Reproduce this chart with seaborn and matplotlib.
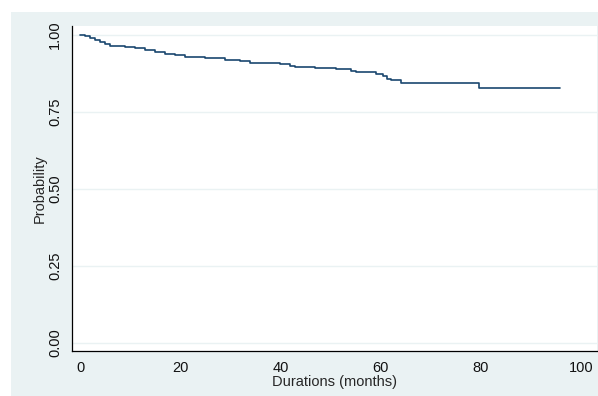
import matplotlib
matplotlib.use("Agg")
import matplotlib.pyplot as plt
from matplotlib.patches import Rectangle
import seaborn as sns
import pandas as pd

# Kaplan-Meier survival estimate: step times (months) and survival probability
times = [0, 1, 2, 3, 4, 5, 6, 9, 11, 13, 15, 17, 19, 21, 25, 29, 32, 34,
         40, 42, 43, 47, 51, 54, 55, 59, 60.5, 61.3, 62, 64, 79.6, 95.8]
survival = [1.0, 0.995, 0.99, 0.984, 0.978, 0.970, 0.965, 0.960, 0.956,
            0.950, 0.943, 0.938, 0.934, 0.929, 0.925, 0.920, 0.915, 0.910,
            0.905, 0.900, 0.897, 0.893, 0.889, 0.884, 0.880, 0.874, 0.866,
            0.857, 0.853, 0.844, 0.829, 0.829]

x_ticks = [0, 20, 40, 60, 80, 100]
y_ticks = [0.0, 0.25, 0.50, 0.75, 1.0]
y_tick_labels = ["0.00", "0.25", "0.50", "0.75", "1.00"]

df = pd.DataFrame({"time": times, "survival": survival})

sns.set_style("white")
plt.rcParams["font.family"] = ["Liberation Sans", "DejaVu Sans"]

W, H = 598, 396
fig = plt.figure(figsize=(W / 100, H / 100), dpi=100, facecolor="white")

# graph region behind the plot area
region = Rectangle((11 / W, 0), 1 - 11 / W, 1 - 12 / H,
                   transform=fig.transFigure, facecolor="#eaf2f3",
                   edgecolor="none", zorder=-10)
fig.add_artist(region)

ax = fig.add_axes([72 / W, (H - 351) / H, (597 - 72) / W, (351 - 26) / H])
ax.set_zorder(1)
ax.set_facecolor("white")

sns.lineplot(data=df, x="time", y="survival", ax=ax, drawstyle="steps-post",
             color="#1a476f", linewidth=1.2, estimator=None, zorder=3)

ax.set_xlim(-1.6, 103.2)
ax.set_ylim(-0.026, 1.029)
ax.set_xticks(x_ticks)
ax.set_yticks(y_ticks)
ax.set_yticklabels(y_tick_labels, rotation=90, va="center")
ax.tick_params(axis="both", direction="out", length=5, width=0.8,
               colors="black", labelsize=10.5, pad=2)
ax.tick_params(axis="both", labelcolor="#111111")

ax.grid(axis="y", color="#eaf2f3", linewidth=1.0, zorder=1)
ax.grid(axis="x", visible=False)

for side in ["top", "right"]:
    ax.spines[side].set_visible(False)
for side in ["left", "bottom"]:
    ax.spines[side].set_color("black")
    ax.spines[side].set_linewidth(0.9)

ax.set_xlabel("Durations (months)", fontsize=10.5, labelpad=0)
ax.set_ylabel("Probability", fontsize=10.5, labelpad=1)

fig.savefig("out.png", dpi=100, facecolor="white")
